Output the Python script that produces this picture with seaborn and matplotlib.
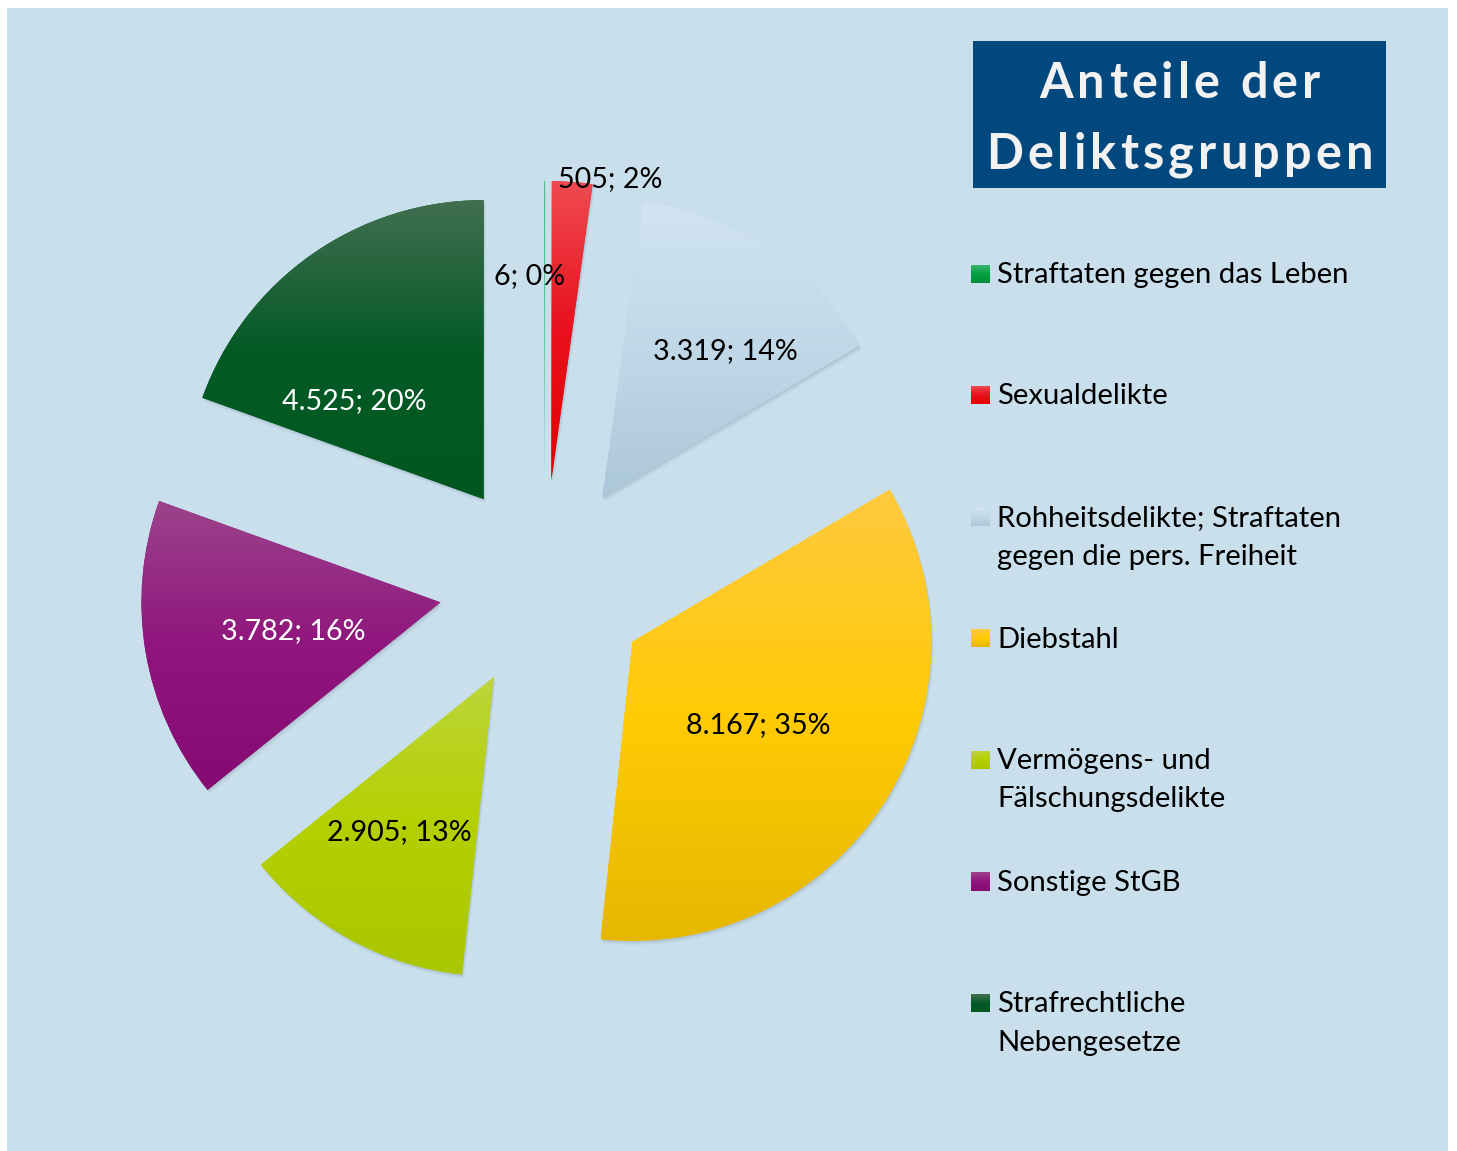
import numpy as np
import matplotlib
matplotlib.use("Agg")
import matplotlib.pyplot as plt
import seaborn as sns
from matplotlib.patches import Rectangle, Wedge
from matplotlib.colors import LinearSegmentedColormap

# ---------------- data ----------------
categories = [
    "Straftaten gegen das Leben",
    "Sexualdelikte",
    "Rohheitsdelikte; Straftaten\ngegen die pers. Freiheit",
    "Diebstahl",
    "Vermögens- und\nFälschungsdelikte",
    "Sonstige StGB",
    "Strafrechtliche\nNebengesetze",
]
values = [6, 505, 3319, 8167, 2905, 3782, 4525]
percent_labels = [0, 2, 14, 35, 13, 16, 20]
title_lines = ["Anteile der", "Deliktsgruppen"]

# gradient colours (top, middle, bottom)
grad_colors = [
    ("#3DB56C", "#00A040", "#008E38"),
    ("#EF4A50", "#E8111D", "#E50000"),
    ("#D1E5F2", "#C1D8E8", "#ACC7D9"),
    ("#FFC940", "#FFCB05", "#E5B700"),
    ("#BDD53B", "#B5D000", "#A9C700"),
    ("#9C438B", "#90167E", "#850B72"),
    ("#426F51", "#045A25", "#005820"),
]
label_colors = ["black", "black", "black", "black", "black", "white", "white"]
label_offsets = [(-0.05, 0.682), (0.197, 1.007), (0.413, 0.49), (0.42, -0.28),
                 (-0.317, -0.517), (-0.493, -0.097), (-0.433, 0.327)]

# ---------------- style ----------------
sns.set_theme(style="white")
FONT = ["Lato", "DejaVu Sans"]
plt.rcParams["font.family"] = FONT
LBL_SIZE = 20.6
LEG_SIZE = 21.1

W, H, DPI = 1457, 1151, 100
R_PX = 299.0
CX, CY = 544.0, 585.0
EXPLODE = 105.0 / R_PX


def xd(x):
    return (x - CX) / R_PX


def yd(y):
    return (CY - y) / R_PX


fig = plt.figure(figsize=(W / DPI, H / DPI), dpi=DPI)
fig.patch.set_facecolor("white")

ax = fig.add_axes([0, 0, 1, 1])
ax.set_facecolor("none")
ax.add_patch(Rectangle((xd(7), yd(H + 5)), (1448 - 7) / R_PX, (H + 5 - 8) / R_PX,
                       facecolor="#C9DFEC", edgecolor="none", zorder=0))

mid_cols = [c[1] for c in grad_colors]
wedges, _ = ax.pie(values, explode=[EXPLODE] * len(values), startangle=90,
                   counterclock=False, radius=1, colors=mid_cols,
                   wedgeprops=dict(linewidth=0, zorder=3))


def gradient_fill(patch_clip, extent, cols, z):
    cmap = LinearSegmentedColormap.from_list("g", [(0, cols[0]), (0.5, cols[1]), (1, cols[2])])
    grad = np.linspace(0, 1, 256).reshape(-1, 1)
    im = ax.imshow(grad, cmap=cmap, extent=extent, origin="upper",
                   aspect="auto", zorder=z, interpolation="bilinear")
    if patch_clip is not None:
        im.set_clip_path(patch_clip)
    return im


px = 1.0 / R_PX
for w, cols in zip(wedges, grad_colors):
    # soft drop shadow
    for d, a in [(1.5, 0.07), (3.0, 0.05), (4.5, 0.03)]:
        s = Wedge((w.center[0] + 0.5 * d * px, w.center[1] - d * px), w.r,
                  w.theta1, w.theta2, facecolor="#1F3440", alpha=a,
                  linewidth=0, zorder=2)
        ax.add_patch(s)
    v = w.get_path().vertices
    ext = (v[:, 0].min(), v[:, 0].max(), v[:, 1].min(), v[:, 1].max())
    gradient_fill(w, ext, cols, 3.1)

# data labels
for w, val, pct, (dx, dy), c in zip(wedges, values, percent_labels, label_offsets, label_colors):
    txt = f"{val:,}".replace(",", ".") + f"; {pct}%"
    ax.text(w.center[0] + dx, w.center[1] + dy, txt, ha="center", va="center",
            fontsize=LBL_SIZE, color=c, zorder=6)

# legend
for i, (cat, cols) in enumerate(zip(categories, grad_colors)):
    base = 283 + 121.5 * i
    gradient_fill(None, (xd(971), xd(990), yd(base), yd(base - 18)), cols, 4)
    for j, line in enumerate(cat.split("\n")):
        ax.text(xd(997), yd(base + 38.5 * j), line, ha="left", va="baseline",
                fontsize=LEG_SIZE, color="black", zorder=6)

# title box with letter-spaced text
ax.add_patch(Rectangle((xd(973), yd(188)), (1386 - 973) / R_PX, (188 - 41) / R_PX,
                       facecolor="#00487D", edgecolor="none", zorder=4))
renderer = fig.canvas.get_renderer()
title_kw = dict(fontsize=35, fontweight="bold", color="#F2F2F2", zorder=6,
                va="baseline", ha="left")
TRACK_PX = 4.2


def text_width_px(s):
    if not s:
        return 0.0
    t = ax.text(0, 0, s, **title_kw)
    wpx = t.get_window_extent(renderer).width
    t.remove()
    return wpx


for j, line in enumerate(title_lines):
    base = 98 + 71 * j
    total = text_width_px(line) + TRACK_PX * (len(line) - 1)
    x0 = 1179.5 - total / 2
    for k, ch in enumerate(line):
        if ch == " ":
            continue
        xpos = x0 + text_width_px(line[:k]) + TRACK_PX * k
        ax.text(xd(xpos), yd(base), ch, **title_kw)

ax.set_xlim(xd(0), xd(W))
ax.set_ylim(yd(H), yd(0))
ax.axis("off")

fig.savefig("out.png", dpi=DPI)
